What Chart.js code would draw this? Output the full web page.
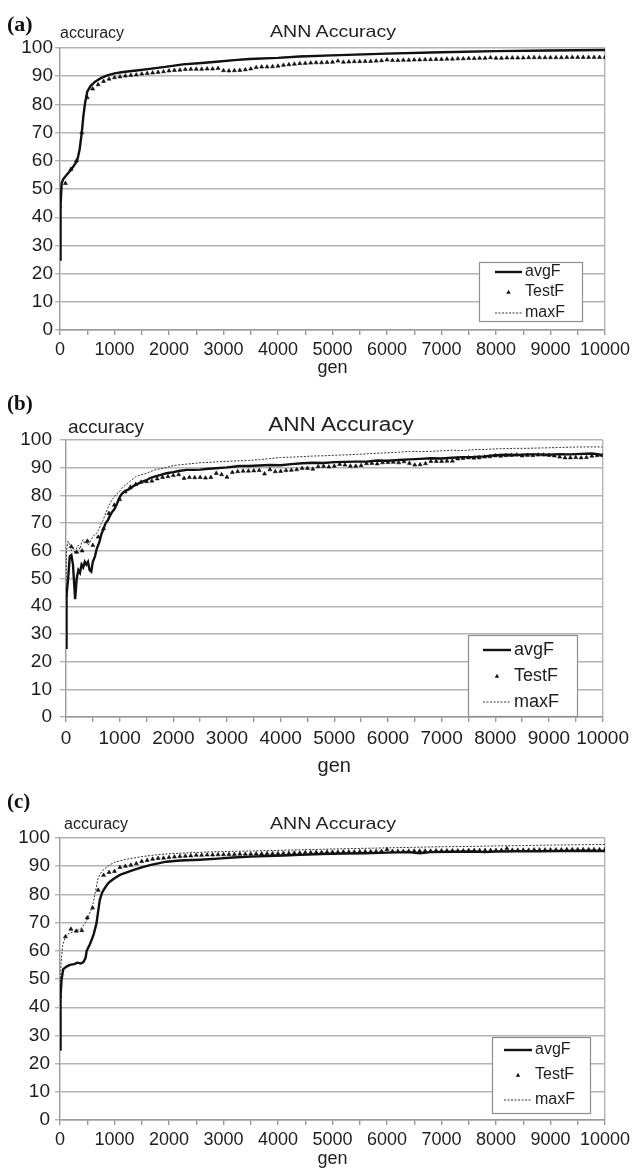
<!DOCTYPE html>
<html><head><meta charset="utf-8">
<script src="https://cdn.jsdelivr.net/npm/chart.js@4.4.1/dist/chart.umd.min.js"></script>
<style>
html,body{margin:0;padding:0;background:#fff;}
body{width:634px;height:1170px;position:relative;overflow:hidden;font-family:"Liberation Sans",Arial,sans-serif;}
canvas{position:absolute;left:0;}
.t{position:absolute;white-space:nowrap;color:#222;line-height:1;}
.c{transform-origin:center top;}
.p{font-family:"Liberation Serif","Times New Roman",serif;font-weight:bold;color:#111;}
</style></head><body>
<canvas id="ca" width="634" height="385" style="top:0px"></canvas>
<canvas id="cb" width="634" height="395" style="top:385px"></canvas>
<canvas id="cc" width="634" height="390" style="top:780px"></canvas>

<div class="t p" style="left:7px;top:13px;font-size:22px;">(a)</div>
<div class="t" style="left:60px;top:25px;font-size:16px;">accuracy</div>
<div class="t c" style="left:233px;width:200px;text-align:center;top:23px;font-size:17px;transform:scaleX(1.15);">ANN Accuracy</div>

<div class="t p" style="left:7px;top:393px;font-size:21px;">(b)</div>
<div class="t" style="left:68px;top:417px;font-size:19px;">accuracy</div>
<div class="t c" style="left:241px;width:200px;text-align:center;top:414px;font-size:20px;transform:scaleX(1.13);">ANN Accuracy</div>

<div class="t p" style="left:7px;top:791px;font-size:21px;">(c)</div>
<div class="t" style="left:64px;top:816px;font-size:16px;">accuracy</div>
<div class="t c" style="left:233px;width:200px;text-align:center;top:815px;font-size:17px;transform:scaleX(1.15);">ANN Accuracy</div>

<script>
// ---------- DATA ----------
const testGens = [0,100,200,300,400,500,600,700,800,900,1000,1100,1200,1300,1400,1500,1600,1700,1800,1900,2000,2100,2200,2300,2400,2500,2600,2700,2800,2900,3000,3100,3200,3300,3400,3500,3600,3700,3800,3900,4000,4100,4200,4300,4400,4500,4600,4700,4800,4900,5000,5100,5200,5300,5400,5500,5600,5700,5800,5900,6000,6100,6200,6300,6400,6500,6600,6700,6800,6900,7000,7100,7200,7300,7400,7500,7600,7700,7800,7900,8000,8100,8200,8300,8400,8500,8600,8700,8800,8900,9000,9100,9200,9300,9400,9500,9600,9700,9800,9900,10000];

// Panel (a)
const genA   = [0,10,30,60,120,210,315,360,400,430,460,500,560,640,750,855,1000,1160,1400,1650,2000,2260,2600,2870,3200,3480,4000,4400,5000,6000,7000,8000,9000,10000];
const avgFA  = [25,44,52,53.5,55,57,60,64,70,76,80.5,84.5,86.5,88,89.3,90.2,91,91.5,92,92.6,93.5,94.2,94.7,95.1,95.7,96.1,96.5,97,97.4,98,98.5,98.9,99.1,99.3];
const maxFA  = [44,45,52.2,53.7,55.2,57.2,60.2,64.2,70.2,76.2,80.7,84.7,86.7,88.2,89.4,90.3,91.1,91.6,92.1,92.7,93.6,94.3,94.8,95.2,95.8,96.2,96.6,97.1,97.5,98.1,98.6,99,99.2,99.4];
const testFA = [44,52,57,60,70,82.4,85.5,87,88.2,89,89.5,89.8,90.1,90.3,90.5,90.8,91,91.2,91.4,91.6,91.9,92.1,92.2,92.4,92.5,92.5,92.5,92.6,92.6,92.8,92,91.9,92,92.1,92.3,92.6,93.1,93.3,93.3,93.4,93.6,93.9,94.1,94.3,94.5,94.6,94.7,94.8,94.8,94.9,95,95.4,95,95.1,95.2,95.2,95.3,95.3,95.4,95.5,95.8,95.6,95.6,95.7,95.7,95.8,95.8,95.9,95.9,96,96,96.1,96.1,96.2,96.2,96.3,96.3,96.4,96.4,96.6,96.4,96.4,96.5,96.5,96.5,96.5,96.6,96.6,96.6,96.6,96.6,96.6,96.6,96.7,96.7,96.7,96.7,96.7,96.7,96.7,96.7];

// Panel (b)
const genB   = [0,10,40,70,100,130,170,200,230,260,290,320,350,380,410,440,470,500,540,570,620,660,690,740,780,815,860,900,940,980,1020,1060,1100,1150,1200,1250,1300,1400,1500,1560,1650,1750,1870,2000,2100,2250,2400,2500,2650,2800,3000,3240,3400,3600,3800,4000,4200,4400,4600,4800,5000,5200,5400,5600,5800,6000,6200,6400,6600,6800,7000,7200,7400,7600,7800,8000,8200,8400,8600,8800,9000,9200,9400,9600,9800,10000];
const avgFB  = [25,44,50,58,58.5,55,42.5,50,53,52,55,54,56,55,56,53,52.5,56,58,60.5,63,66,67.5,70,71,72.5,74,75,76.5,78.5,80,81,81.5,82,82.5,83.3,83.8,84.8,85.5,86.2,86.8,87.3,88,88.4,88.8,89.2,89.2,89.3,89.6,89.8,90.1,90.6,90.6,90.8,91,90.9,91.3,91.6,91.8,91.7,92,92.1,92.2,92.2,92.6,92.5,92.8,93,93.2,93.4,93.3,93.6,93.8,93.9,94.1,94.5,94.7,94.6,94.8,94.8,94.7,94.9,94.8,95,95.1,94.6];
const maxFB  = [44,60,63.5,62,60,61.5,59,61,62,60.5,63,64,62.5,63.5,62,63,64,65,66,66.3,68,70,71,73.5,75.5,77,78.5,79.5,80.5,81,82,83,83.6,84.4,85.2,86,86.8,87.4,88,88.5,89.2,89.6,90,90.8,91,91.3,91.6,91.8,91.9,92.1,92.3,92.5,92.6,92.9,93.3,93.7,93.8,94,94.2,94.3,94.5,94.6,94.8,95,95.2,95.4,95.6,95.9,95.8,95.9,96.1,96.3,96.2,96.5,96.6,96.8,96.9,97,97,97.1,97.2,97.3,97.4,97.5,97.5,97.5];
const testFB = [44,61.5,59.5,60,63.5,62,65,68,73.5,76.5,78.5,81.3,83,84,84.8,85,85.2,86,86.5,86.8,87.2,87.5,86.2,86.5,86.4,86.5,86.3,86.5,88,87.5,86.6,88.3,88.6,88.8,88.8,88.9,89,87.8,89.3,88.6,88.7,89,89.1,89.3,89.8,89.8,89.5,90.4,90.5,90.3,90.6,91.2,91,90.6,90.6,90.8,91.5,91.6,91.4,91.8,91.9,92,91.8,92.2,91.6,91,91.1,91.5,92.3,92.3,92.3,92.4,92.4,93.2,93.4,93.6,93.5,93.6,93.9,94,94.3,94.2,94.4,94.5,94.6,94.3,94.5,94.4,94.6,94.6,94.5,94.3,93.9,93.6,93.6,93.7,93.6,93.7,94.2,94.4,94.4];

// Panel (c)
const genC   = [0,10,30,60,120,180,260,320,380,430,470,490,540,580,620,670,700,730,770,820,870,915,1000,1100,1200,1340,1500,1650,1800,1950,2200,2560,2900,3170,3500,3800,4100,4400,4800,5200,5600,6000,6400,6600,6800,7200,7600,7800,8000,8400,8800,9200,9600,10000];
const avgFC  = [25,44,50,53.5,54.4,55,55.3,55.8,55.5,56,57.5,60,62,63.8,66,69.8,74,78,80.5,82.2,83.6,84.5,85.7,86.9,87.6,88.6,89.6,90.4,91,91.6,92,92.3,92.7,93.1,93.4,93.6,93.8,94,94.3,94.5,94.6,94.8,95,94.6,95,95.1,95.2,95,95.2,95.3,95.3,95.4,95.5,95.4];
const genMC  = [0,20,50,100,150,250,350,400,480,560,610,660,700,750,790,900,1000,1200,1500,1750,2000,2500,3000,3500,4000,4400,5000,5500,6000,6500,7000,7500,8000,8500,9000,9500,10000];
const maxFC  = [44,56,62,65,66,66.8,67.5,68.2,70.3,74,77,82,85.8,87.6,88.6,90.3,91.4,92.4,93.4,94,94.4,94.9,95.2,95.4,95.6,95.8,96.1,96.3,96.5,96.7,96.9,97,97.2,97.3,97.5,97.6,97.7];
const testFC = [44,65,67.7,67,67.2,71.7,75.2,81.5,86.8,87.8,88.2,89.6,90,90.4,90.9,91.7,92.1,92.5,92.8,92.9,93.1,93.3,93.5,93.6,93.7,93.9,93.9,94,94,94.1,94.1,94.2,94.2,94.3,94.3,94.3,94.4,94.4,94.5,94.5,94.5,94.6,94.6,94.7,94.7,94.8,94.8,94.9,94.9,95,95,95,95.1,95.1,95.1,95.2,95.2,95.2,95.2,95.3,95.9,95.3,95.3,95.3,95.4,95.4,95.4,95.4,95.4,95.5,95.5,95.5,95.5,95.5,95.5,95.6,95.6,95.6,95.6,95.6,95.6,95.7,96.3,95.7,95.7,95.7,95.7,95.8,95.8,95.8,95.8,95.8,95.8,95.9,95.9,95.9,95.9,95.9,95.9,95.9,95.9];

const seriesLabels = ['avgF','TestF','maxF'];
const yTicksMin = 0, yTicksMax = 100, yStep = 10;
const xMin = 0, xMax = 10000, xStep = 500, xLabelEvery = 1000;

// ---------- RENDERING ----------
const FAM = '"Liberation Sans", Arial, Helvetica, sans-serif';
const GRID = '#b4b4b4', AXIS = '#9a9a9a', INK = '#111', TXT = '#1e1e1e';
const pts = (xs, ys) => xs.map((x, i) => ({x: x, y: ys[i]}));

const boxLegend = {
  id: 'boxLegend',
  afterDraw(chart, args, o) {
    if (!o || !o.w) return;
    const ctx = chart.ctx;
    ctx.save();
    ctx.fillStyle = '#fff';
    ctx.fillRect(o.x, o.y, o.w, o.h);
    ctx.strokeStyle = '#8e8e8e'; ctx.lineWidth = 1.2;
    ctx.strokeRect(o.x + 0.5, o.y + 0.5, o.w, o.h);
    ctx.font = o.size + 'px ' + FAM;
    ctx.textBaseline = 'middle'; ctx.textAlign = 'left';
    chart.data.datasets.forEach((ds, i) => {
      const y = o.rows[i];
      if (ds.showLine === false) {
        const cx = (o.s0 + o.s1) / 2, r = 2.2;
        ctx.fillStyle = INK;
        ctx.beginPath();
        ctx.moveTo(cx, y - r); ctx.lineTo(cx + r, y + r * 0.8); ctx.lineTo(cx - r, y + r * 0.8);
        ctx.closePath(); ctx.fill();
      } else {
        ctx.beginPath();
        ctx.setLineDash(ds.borderDash || []);
        ctx.lineWidth = ds.borderWidth; ctx.strokeStyle = ds.borderColor;
        ctx.moveTo(o.s0, y); ctx.lineTo(o.s1, y); ctx.stroke();
        ctx.setLineDash([]);
      }
      ctx.fillStyle = TXT;
      ctx.fillText(ds.label, o.tx, y);
    });
    ctx.restore();
  }
};

function makeChart(id, d, L) {
  return new Chart(document.getElementById(id), {
    type: 'line',
    data: {
      datasets: [
        {label: seriesLabels[0], data: pts(d.avgX, d.avg), borderColor: INK, backgroundColor: INK,
         borderWidth: 2.4, pointRadius: 0, tension: 0, fill: false},
        {label: seriesLabels[1], data: pts(testGens, d.test), showLine: false, pointStyle: 'triangle',
         pointRadius: 2.3, pointBorderWidth: 0.6, pointBackgroundColor: INK, pointBorderColor: INK, borderColor: INK, backgroundColor: INK},
        {label: seriesLabels[2], data: pts(d.maxX, d.max), borderColor: '#333', backgroundColor: '#333',
         borderWidth: 1, borderDash: [2, 1.5], pointRadius: 0, tension: 0, fill: false}
      ]
    },
    options: {
      responsive: false, animation: false, devicePixelRatio: 1,
      layout: {padding: L.pad},
      plugins: {legend: {display: false}, tooltip: {enabled: false}, boxLegend: L.legend},
      scales: {
        x: {
          type: 'linear', min: xMin, max: xMax,
          ticks: {stepSize: xStep, autoSkip: false, maxRotation: 0, minRotation: 0, padding: L.xPad, color: TXT,
                  font: {size: L.xFont, family: FAM},
                  callback: (v) => (v % xLabelEvery === 0 ? String(v) : '')},
          grid: {color: (c) => (c.tick && c.tick.value === xMax ? GRID : 'rgba(0,0,0,0)'), lineWidth: 1.4,
                 tickColor: AXIS, tickLength: 5, drawTicks: true},
          border: {display: true, color: AXIS, width: 1.4},
          title: {display: true, text: 'gen', color: TXT, font: {size: L.genFont, family: FAM}, padding: {top: 0, bottom: 0}},
          afterFit: (s) => { s.height = L.xH; }
        },
        y: {
          min: yTicksMin, max: yTicksMax,
          ticks: {stepSize: yStep, padding: L.yPad, color: TXT, font: {size: L.yFont, family: FAM}},
          grid: {color: GRID, lineWidth: 1.4, tickColor: GRID, tickLength: L.yTick},
          border: {display: true, color: AXIS, width: 1.4},
          afterFit: (s) => { s.width = L.yW; }
        }
      }
    },
    plugins: [boxLegend]
  });
}

makeChart('ca', {avgX: genA, avg: avgFA, maxX: genA, max: maxFA, test: testFA}, {
  pad: {left: 0, right: 28, top: 48, bottom: 6},
  yW: 60, xH: 49, xPad: 4, yPad: 2, yTick: 5, xFont: 18, yFont: 19, genFont: 18,
  legend: {x: 479, y: 262, w: 103, h: 59, rows: [272, 292, 313], s0: 495, s1: 522, tx: 525, size: 16}
});
makeChart('cb', {avgX: genB, avg: avgFB, maxX: genB, max: maxFB, test: testFB}, {
  pad: {left: 0, right: 31, top: 55, bottom: 2},
  yW: 66, xH: 61, xPad: 5, yPad: 8, yTick: 6, xFont: 19, yFont: 19, genFont: 20,
  legend: {x: 468, y: 250, w: 109, h: 81, rows: [265, 291, 317], s0: 483, s1: 511, tx: 514, size: 18}
});
makeChart('cc', {avgX: genC, avg: avgFC, maxX: genMC, max: maxFC, test: testFC}, {
  pad: {left: 0, right: 28, top: 58, bottom: 0},
  yW: 60, xH: 50, xPad: 4, yPad: 5, yTick: 5, xFont: 18, yFont: 19, genFont: 18,
  legend: {x: 492, y: 257, w: 98, h: 76, rows: [270, 295, 320], s0: 504, s1: 532, tx: 535, size: 16}
});
</script>
</body></html>
